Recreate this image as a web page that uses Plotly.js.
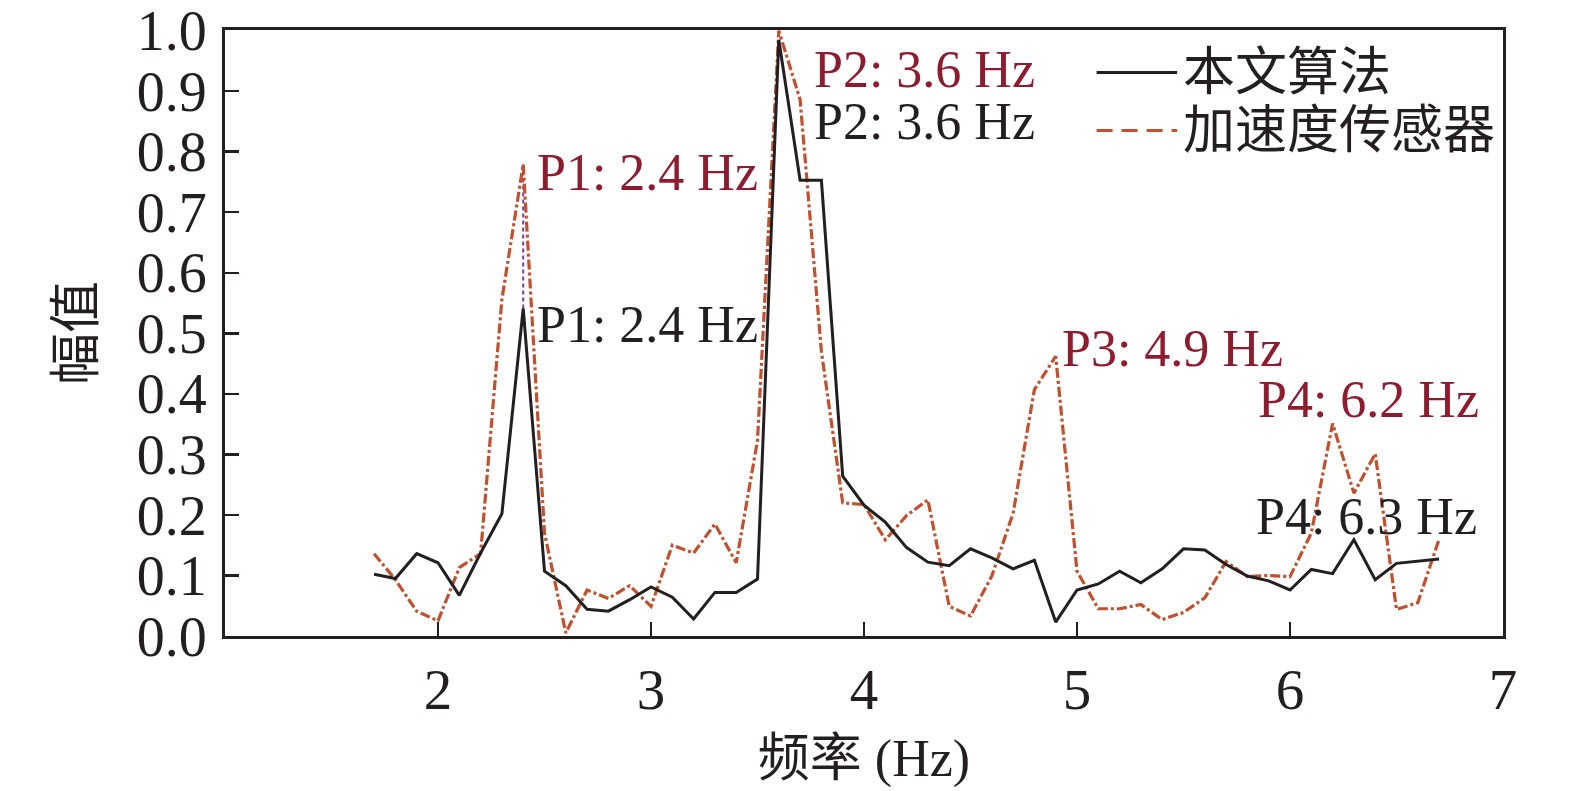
<!DOCTYPE html>
<html>
<head>
<meta charset="utf-8">
<script src="https://cdn.plot.ly/plotly-3.0.1.min.js"></script>
<style>
  html, body { margin: 0; padding: 0; background: #fff; }
  #chart { width: 1575px; height: 791px; }
</style>
</head>
<body>
<div id="chart"></div>
<script>
// frequency axis (Hz)
var freq = [1.7, 1.8, 1.9, 2.0, 2.1, 2.2, 2.3, 2.4, 2.5, 2.6,
            2.7, 2.8, 2.9, 3.0, 3.1, 3.2, 3.3, 3.4, 3.5, 3.6,
            3.7, 3.8, 3.9, 4.0, 4.1, 4.2, 4.3, 4.4, 4.5, 4.6,
            4.7, 4.8, 4.9, 5.0, 5.1, 5.2, 5.3, 5.4, 5.5, 5.6,
            5.7, 5.8, 5.9, 6.0, 6.1, 6.2, 6.3, 6.4, 6.5, 6.6, 6.7];

// 本文算法
var algo_values = [0.102, 0.095, 0.136, 0.121, 0.067, 0.137, 0.202, 0.541, 0.107, 0.083,
                   0.044, 0.041, 0.060, 0.081, 0.064, 0.028, 0.072, 0.072, 0.094, 0.985,
                   0.753, 0.753, 0.264, 0.216, 0.188, 0.146, 0.122, 0.116, 0.144, 0.129,
                   0.111, 0.125, 0.023, 0.076, 0.086, 0.107, 0.088, 0.111, 0.144, 0.142,
                   0.118, 0.099, 0.091, 0.076, 0.110, 0.103, 0.159, 0.093, 0.120, 0.123, 0.127];

// 加速度传感器
var sensor_values = [0.136, 0.093, 0.041, 0.025, 0.113, 0.136, 0.556, 0.779, 0.170, 0.005,
                     0.076, 0.062, 0.083, 0.049, 0.150, 0.137, 0.185, 0.121, 0.323, 1.000,
                     0.886, 0.470, 0.220, 0.217, 0.159, 0.199, 0.225, 0.049, 0.033, 0.099,
                     0.203, 0.407, 0.462, 0.107, 0.045, 0.045, 0.052, 0.027, 0.039, 0.063,
                     0.123, 0.098, 0.100, 0.098, 0.170, 0.351, 0.236, 0.301, 0.044, 0.055, 0.160];

var series_names = ['本文算法', '加速度传感器'];

// peak labels
var algo_peak_labels = ['P1: 2.4 Hz', 'P2: 3.6 Hz', 'P4: 6.3 Hz'];
var sensor_peak_labels = ['P1: 2.4 Hz', 'P2: 3.6 Hz', 'P3: 4.9 Hz', 'P4: 6.2 Hz'];

var x_ticks = [2, 3, 4, 5, 6, 7];
var y_ticks = [0, 0.1, 0.2, 0.3, 0.4, 0.5, 0.6, 0.7, 0.8, 0.9, 1.0];

var FONT = 'Liberation Serif, Times New Roman, Noto Sans CJK SC, serif';
var BLACK = '#231f20';
var LINE_RED = '#c1502e';
var TEXT_RED = '#8e1b2e';

// dotted link between the two P1 peaks
var p1_index = freq.indexOf(2.4);

var algo = {
	x: freq,
	y: algo_values,
	type: 'scatter',
	mode: 'lines',
	name: series_names[0],
	line: { color: BLACK, width: 3 }
};

var sensor = {
	x: freq,
	y: sensor_values,
	type: 'scatter',
	mode: 'lines',
	name: series_names[1],
	line: { color: LINE_RED, width: 3.2, dash: '10px,3px,3px,3px' }
};

var p1_link = {
	x: [freq[p1_index], freq[p1_index]],
	y: [algo_values[p1_index], sensor_values[p1_index]],
	type: 'scatter',
	mode: 'lines',
	showlegend: false,
	hoverinfo: 'skip',
	line: { color: '#7a3ea0', width: 2, dash: '4px,3px' }
};

function label(text, x, y, colour) {
	return {
		text: text, x: x, y: y, xref: 'x', yref: 'y',
		xanchor: 'left', yanchor: 'middle', showarrow: false,
		font: { family: FONT, size: 52, color: colour }
	};
}

var annotations = [
	label(sensor_peak_labels[0], 2.455, 0.765, TEXT_RED),
	label(algo_peak_labels[0], 2.455, 0.515, BLACK),
	label(sensor_peak_labels[1], 3.755, 0.935, TEXT_RED),
	label(algo_peak_labels[1], 3.755, 0.85, BLACK),
	label(sensor_peak_labels[2], 4.92, 0.475, TEXT_RED),
	label(sensor_peak_labels[3], 5.84, 0.39, TEXT_RED),
	label(algo_peak_labels[2], 5.83, 0.197, BLACK),
	// legend texts
	{
		text: series_names[0], x: 0.748, y: 0.93, xref: 'paper', yref: 'paper',
		xanchor: 'left', yanchor: 'middle', showarrow: false,
		font: { family: FONT, size: 52, color: BLACK }
	},
	{
		text: series_names[1], x: 0.748, y: 0.834, xref: 'paper', yref: 'paper',
		xanchor: 'left', yanchor: 'middle', showarrow: false,
		font: { family: FONT, size: 52, color: BLACK }
	}
];

// legend line samples
var shapes = [
	{ type: 'line', xref: 'paper', yref: 'paper', x0: 0.682, x1: 0.745, y0: 0.93, y1: 0.93,
	  line: { color: BLACK, width: 3 } },
	{ type: 'line', xref: 'paper', yref: 'paper', x0: 0.682, x1: 0.745, y0: 0.834, y1: 0.834,
	  line: { color: LINE_RED, width: 3, dash: '16px,9px' } }
];

var layout = {
	width: 1575,
	height: 791,
	margin: { l: 225, r: 72, t: 30, b: 155 },
	paper_bgcolor: '#ffffff',
	plot_bgcolor: '#ffffff',
	font: { family: FONT, size: 52, color: BLACK },
	showlegend: false,
	xaxis: {
		range: [1, 7],
		tickmode: 'array',
		tickvals: x_ticks,
		ticks: 'inside',
		ticklen: 14,
		tickwidth: 2.5,
		tickcolor: BLACK,
		ticklabelstandoff: 2,
		showline: true,
		linewidth: 3,
		linecolor: BLACK,
		mirror: true,
		showgrid: false,
		zeroline: false,
		tickfont: { family: FONT, size: 57, color: BLACK },
		title: { text: '频率 (Hz)', standoff: 20, font: { family: FONT, size: 52, color: BLACK } }
	},
	yaxis: {
		range: [0, 1.001],
		tickmode: 'array',
		tickvals: y_ticks,
		tickformat: '.1f',
		ticks: 'inside',
		ticklen: 14,
		tickwidth: 2.5,
		tickcolor: BLACK,
		ticklabelstandoff: 4,
		ticklabeloverflow: 'allow',
		showline: true,
		linewidth: 3,
		linecolor: BLACK,
		mirror: true,
		showgrid: false,
		zeroline: false,
		tickfont: { family: FONT, size: 56, color: BLACK },
		title: { text: '幅值', standoff: 26, font: { family: FONT, size: 52, color: BLACK } }
	},
	annotations: annotations,
	shapes: shapes
};

var config = { displayModeBar: false, staticPlot: true };

Plotly.newPlot('chart', [p1_link, sensor, algo], layout, config);
</script>
</body>
</html>
